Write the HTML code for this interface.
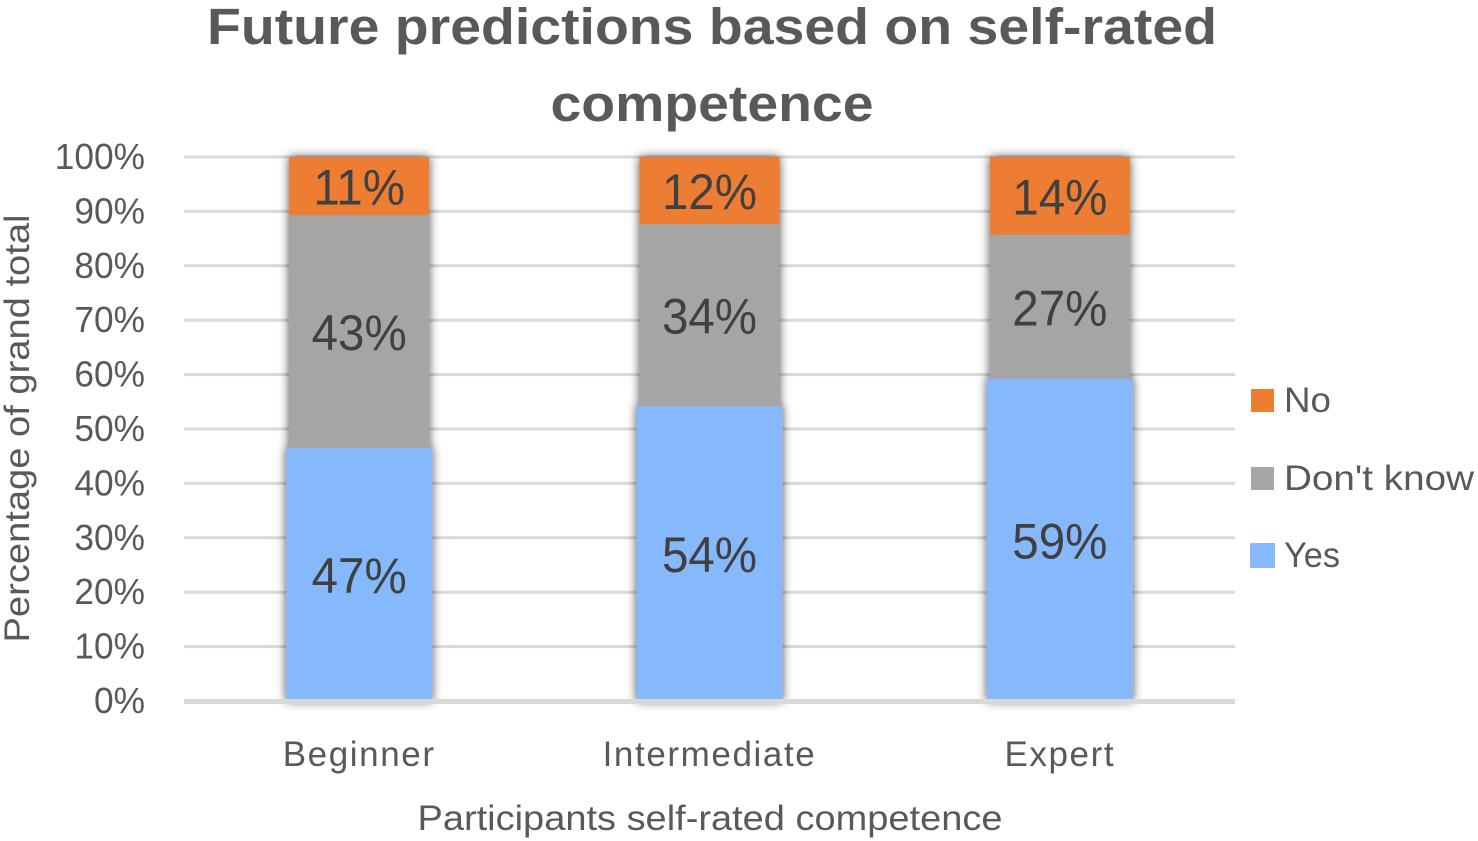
<!DOCTYPE html>
<html lang="en">
<head>
<meta charset="utf-8">
<title>Future predictions based on self-rated competence</title>
<style>
html,body{margin:0;padding:0;background:#fff;}
svg{display:block;font-family:"Liberation Sans",sans-serif;}
</style>
</head>
<body>
<svg id="chart" xmlns="http://www.w3.org/2000/svg" width="1478" height="841" viewBox="0 0 1478 841">
<defs>
<filter id="bar-shadow" x="-20%" y="-5%" width="140%" height="110%">
<feDropShadow dx="0" dy="0" stdDeviation="5" flood-color="#000" flood-opacity="0.7"/>
</filter>
</defs>
<rect x="0" y="0" width="1478" height="841" fill="#fff"/>
<g fill="#595959" font-weight="700" font-size="51" text-anchor="middle">
<text x="712" y="44" textLength="1010" lengthAdjust="spacingAndGlyphs">Future predictions based on self-rated</text>
<text x="712" y="121" textLength="323" lengthAdjust="spacingAndGlyphs">competence</text>
</g>
<g id="gridlines"></g>
<g id="y-ticks"></g>
<g id="bars"></g>
<g id="x-ticks"></g>
<g id="labels"></g>
<text transform="translate(29,428.5) rotate(-90)" text-anchor="middle" font-size="35" fill="#595959" textLength="428" lengthAdjust="spacingAndGlyphs">Percentage of grand total</text>
<text x="710" y="830" text-anchor="middle" font-size="35" fill="#595959" textLength="585" lengthAdjust="spacingAndGlyphs">Participants self-rated competence</text>
<g font-size="35" fill="#595959">
<g>
<rect x="1251" y="389" width="23" height="23" fill="#ed7d31"/>
<text x="1284" y="412" textLength="47" lengthAdjust="spacingAndGlyphs">No</text>
</g>
<g>
<rect x="1251" y="467" width="23" height="23" fill="#a5a5a5"/>
<text x="1284" y="490" textLength="190" lengthAdjust="spacingAndGlyphs">Don't know</text>
</g>
<g>
<rect x="1250" y="543" width="25" height="25" rx="1" fill="#85b9fb"/>
<text x="1284" y="567" textLength="56" lengthAdjust="spacingAndGlyphs">Yes</text>
</g>
</g>
</svg>
<script>
const categories = ['Beginner', 'Intermediate', 'Expert'];
const yesValues = [46.5, 54.2, 59.2];
const dontKnowValues = [42.8, 33.5, 26.5];
const noValues = [10.7, 12.3, 14.3];
const yesLabels = ['47%', '54%', '59%'];
const dontKnowLabels = ['43%', '34%', '27%'];
const noLabels = ['11%', '12%', '14%'];
const yTicks = [0, 10, 20, 30, 40, 50, 60, 70, 80, 90, 100];

const NS = 'http://www.w3.org/2000/svg';
const plotLeft = 184, plotRight = 1235, yZero = 701, yScale = 5.44;
const yPos = function (v) { return yZero - yScale * v; };
const band = (plotRight - plotLeft) / categories.length;
const xCenter = function (i) { return plotLeft + band * (i + 0.5); };

function make(tag, attrs, parent, text) {
  const el = document.createElementNS(NS, tag);
  for (const k in attrs) el.setAttribute(k, attrs[k]);
  if (text !== undefined) el.textContent = text;
  parent.appendChild(el);
  return el;
}
function squeeze(el, k) {
  el.setAttribute('textLength', (el.getComputedTextLength() * k).toFixed(1));
  el.setAttribute('lengthAdjust', 'spacingAndGlyphs');
}

const gridG = document.getElementById('gridlines');
const yTickG = document.getElementById('y-ticks');
yTicks.forEach(function (t) {
  const isBase = t === 0;
  const line = make('line', { x1: plotLeft, x2: plotRight, y1: yPos(t), y2: yPos(t), stroke: '#d9d9d9', 'stroke-width': 3 }, gridG);
  
  
  line.style.display = isBase ? 'none' : '';
  const label = make('text', { x: 145, y: yPos(t) + 12, 'text-anchor': 'end', 'font-size': 36, fill: '#595959' }, yTickG, t + '%');
  
  
  squeeze(label, 0.98);
});

const barsG = document.getElementById('bars');
const xTickG = document.getElementById('x-ticks');
const labelsG = document.getElementById('labels');

categories.forEach(function (cat, i) {
  const cx = xCenter(i);
  const stack = make('g', { filter: 'url(#bar-shadow)' }, barsG);
  
  

  const yesTop = yesValues[i];
  const dkTop = yesTop + dontKnowValues[i];
  const noTop = dkTop + noValues[i];
  const segW = 140, yesW = 146;

  const noRect = make('rect', { x: cx - segW / 2, y: yPos(noTop), width: segW, height: yPos(dkTop) - yPos(noTop), fill: '#ed7d31' }, stack);
  
  

  const dkRect = make('rect', { x: cx - segW / 2, y: yPos(dkTop), width: segW, height: yPos(yesTop) - yPos(dkTop), fill: '#a5a5a5' }, stack);
  
  

  const yesRect = make('rect', { x: cx - yesW / 2, y: yPos(yesTop), width: yesW, height: yPos(0) - yPos(yesTop), fill: '#85b9fb' }, stack);
  
  

  const catLabel = make('text', { x: cx, y: 766, 'text-anchor': 'middle', 'font-size': 35, 'letter-spacing': 1.6, fill: '#595959' }, xTickG, cat);
  
  

  const labelAttrs = function (from, to) {
    return { x: cx, y: (yPos(from) + yPos(to)) / 2 + 18.5, 'text-anchor': 'middle', 'font-size': 50, fill: '#404040' };
  };
  const noText = make('text', labelAttrs(dkTop, noTop), labelsG, noLabels[i]);
  
  
  squeeze(noText, 0.95);

  const dkText = make('text', labelAttrs(yesTop, dkTop), labelsG, dontKnowLabels[i]);
  
  
  squeeze(dkText, 0.95);

  const yesText = make('text', labelAttrs(0, yesTop), labelsG, yesLabels[i]);
  
  
  squeeze(yesText, 0.95);
});

const axis = make('line', { x1: plotLeft, x2: plotRight, y1: yZero + 0.5, y2: yZero + 0.5, stroke: '#d9d9d9', 'stroke-width': 5 }, barsG);


</script>
</body>
</html>
